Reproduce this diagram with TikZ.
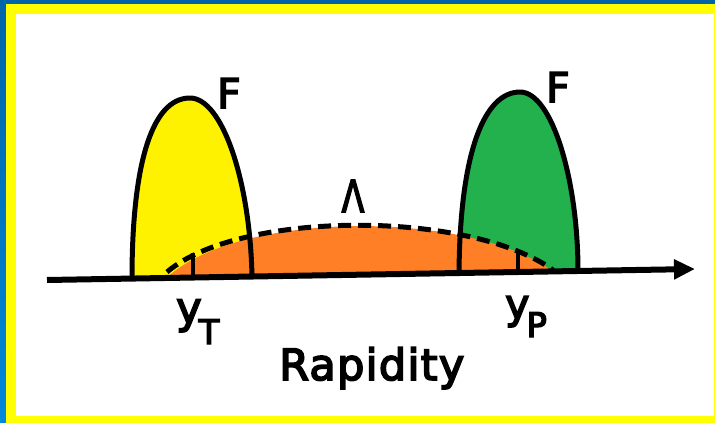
\documentclass[tikz,border=0pt]{standalone}
\usepackage{fontspec}
\setmainfont{DejaVu Sans}
\newfontfamily\heavyfont[FakeBold=4]{DejaVu Sans}
\newfontfamily\rapfont[FakeBold=4,LetterSpace=3]{DejaVu Sans}
\usetikzlibrary{arrows.meta}
\definecolor{pyellow}{HTML}{FFF200}
\definecolor{pgreen}{HTML}{22B14C}
\definecolor{porange}{HTML}{FF7F27}
\definecolor{fyellow}{HTML}{FFFF00}
\definecolor{fblueA}{HTML}{0064A8}
\definecolor{fblueB}{HTML}{0088D8}
\begin{document}
\begin{tikzpicture}[x=1pt,y=-1pt,
  outline/.style={line width=5pt, line join=round, line cap=round},
  dashcurve/.style={line width=5pt, dash pattern=on 13pt off 7pt},
  tickline/.style={line width=4.5pt},
  axisline/.style={line width=6pt, -{Triangle[length=21pt,width=19pt]}},
  lbl/.style={inner sep=0pt}]
\useasboundingbox (0,0) rectangle (715,423);
% frame
\shade[top color=fblueA, bottom color=fblueB] (0,0) rectangle (715,423);
\fill[fyellow] (6,4) rectangle (715,423);
\fill[white] (16,14) rectangle (714,416);
% coordinates
\coordinate (axL) at (47,280);
\coordinate (axR) at (695,269);
% fills
\fill[pyellow] (132,278.6) .. controls (132,170) and (150,98) .. (190,98) .. controls (222,98) and (250,180) .. (252,276.5) -- cycle;
\fill[pgreen] (459,273) .. controls (460,150) and (485,92) .. (520,92) .. controls (552,92) and (578,180) .. (578,271) -- cycle;
\fill[porange] (167,277.5) .. controls (240,210) and (470,210) .. (553,271.5) -- cycle;
% outlines
\draw[outline] (132,278.6) .. controls (132,170) and (150,98) .. (190,98) .. controls (222,98) and (250,180) .. (252,276.5);
\draw[outline] (459,273) .. controls (460,150) and (485,92) .. (520,92) .. controls (552,92) and (578,180) .. (578,271);
\draw[dashcurve] (167,272) .. controls (240,210) and (470,210) .. (553,270);
% ticks
\coordinate (tT0) at (193,277.6); \coordinate (tT1) at (193,253);
\coordinate (tP0) at (518,272.6); \coordinate (tP1) at (518,250);
\draw[tickline] (tT0) -- (tT1);
\draw[tickline] (tP0) -- (tP1);
% axis
\draw[axisline] (axL) -- (axR);
% labels
\node[anchor=base, lbl, font=\heavyfont\fontsize{41}{41}\selectfont] (F1) at (229,108) {F};
\node[anchor=base, lbl, font=\heavyfont\fontsize{41}{41}\selectfont] (F2) at (558,102) {F};
\node[anchor=base, lbl, xscale=0.75, font=\heavyfont\fontsize{44}{44}\selectfont] (lam) at (353,212) {Λ};
\node[anchor=base west, lbl] (yT) at (176,323) {\heavyfont\fontsize{43}{43}\selectfont y\kern-3pt\raisebox{-21pt}{\fontsize{34}{34}\selectfont T}};
\node[anchor=base west, lbl] (yP) at (505,318.5) {\heavyfont\fontsize{41}{41}\selectfont y\kern-3pt\raisebox{-18.5pt}{\fontsize{34}{34}\selectfont P}};
\node[anchor=base west, lbl, font=\rapfont\fontsize{43}{43}\selectfont] (rap) at (279,380) {Rapidity};
\end{tikzpicture}
\end{document}
